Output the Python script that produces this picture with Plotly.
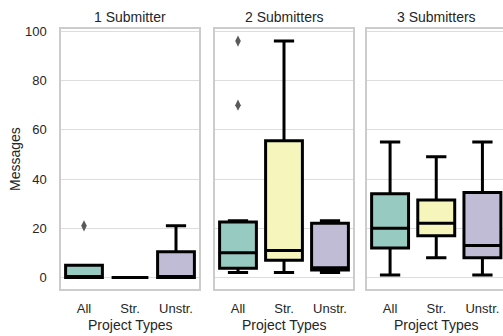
import plotly.graph_objects as go

# ---- data ----
panels = ["1 Submitter", "2 Submitters", "3 Submitters"]
categories = ["All", "Str.", "Unstr."]
colors = ["#97cac1", "#f6f6bc", "#c0bcd6"]

# per panel, per category: lower whisker, q1, median, q3, upper whisker
lower = [[0, 0, 0], [2, 2, 2], [1, 8, 1]]
q1 = [[0, 0, 0], [3.7, 7, 3], [12, 17, 8]]
median = [[0, 0, 0], [10, 11, 4], [20, 22, 13]]
q3 = [[5, 0, 10.5], [22.5, 55.5, 22], [34, 31.5, 34.5]]
upper = [[5, 0, 21], [23, 96, 23], [55, 49, 55]]

# outliers: (panel index, category, value)
out_panel = [0, 1, 1]
out_cat = ["All", "All", "All"]
out_val = [21, 96, 70]

yticks = [0, 20, 40, 60, 80, 100]

W, H = 503, 336
FONT = "Liberation Sans, Arial, sans-serif"
TXT = "#262626"

fig = go.Figure()
axnames = ["", "2", "3"]
for p in range(3):
    for c in range(3):
        fig.add_trace(go.Box(
            x=[categories[c]],
            q1=[q1[p][c]], median=[median[p][c]], q3=[q3[p][c]],
            lowerfence=[lower[p][c]], upperfence=[upper[p][c]],
            fillcolor=colors[c],
            line=dict(color="black", width=3),
            width=0.8, whiskerwidth=0.55,
            boxpoints=False, showlegend=False, hoverinfo="skip",
            xaxis="x" + axnames[p], yaxis="y" + axnames[p],
        ))
for p in range(3):
    xs = [out_cat[i] for i in range(len(out_val)) if out_panel[i] == p]
    ys = [out_val[i] for i in range(len(out_val)) if out_panel[i] == p]
    if xs:
        fig.add_trace(go.Scatter(
            x=xs, y=ys, mode="markers",
            marker=dict(symbol="diamond-tall", size=8, color="#5a5a5a"),
            showlegend=False, hoverinfo="skip",
            xaxis="x" + axnames[p], yaxis="y" + axnames[p],
        ))

px = [(61, 199), (215, 353), (367, 503)]
ydom = [1 - 289.3 / H, 1 - 29.3 / H]
xranges = [[-0.5, 2.5], [-0.5, 2.5], [-0.5, 2.5 - 3 * (505.5 - 503) / 138.5]]

layout = dict(
    width=W, height=H,
    margin=dict(l=0, r=0, t=0, b=0, autoexpand=False),
    paper_bgcolor="white", plot_bgcolor="white",
    font=dict(family=FONT, size=13, color=TXT),
    annotations=[],
)
for p in range(3):
    xa = dict(
        domain=[px[p][0] / W, px[p][1] / W],
        anchor="y" + axnames[p],
        type="category", categoryorder="array", categoryarray=categories,
        range=xranges[p], automargin=False,
        showgrid=False, zeroline=False,
        showline=True, mirror=True, linecolor="#cccccc", linewidth=1.5,
        ticks="outside", ticklen=6, tickcolor="rgba(0,0,0,0)",
        tickfont=dict(size=13, color=TXT),
    )
    ya = dict(
        domain=ydom,
        anchor="x" + axnames[p],
        range=[-4.8, 100.8], automargin=False,
        tickvals=yticks,
        showgrid=True, gridcolor="#dddddd", gridwidth=1.2,
        zeroline=False,
        showline=True, mirror=(p < 2), linecolor="#cccccc", linewidth=1.5,
        showticklabels=(p == 0),
        ticks="outside", ticklen=10, tickcolor="rgba(0,0,0,0)",
        tickfont=dict(size=13, color=TXT),
    )
    if p > 0:
        ya["matches"] = "y"
    layout["xaxis" + axnames[p]] = xa
    layout["yaxis" + axnames[p]] = ya
    cx = (px[p][0] + (px[p][0] + 138.5)) / 2 / W
    layout["annotations"].append(dict(
        text=panels[p], x=cx, y=1 - 16.7 / H, xref="paper", yref="paper",
        xanchor="center", yanchor="middle", showarrow=False,
        font=dict(size=14, color=TXT)))
    layout["annotations"].append(dict(
        text="Project Types", x=cx, y=1 - 324.5 / H, xref="paper", yref="paper",
        xanchor="center", yanchor="middle", showarrow=False,
        font=dict(size=14, color=TXT)))

layout["annotations"].append(dict(
    text="Messages", x=15 / W, y=1 - 159 / H, xref="paper", yref="paper",
    xanchor="center", yanchor="middle", showarrow=False, textangle=-90,
    font=dict(size=14, color=TXT)))

fig.update_layout(**layout)
fig.write_html("out.html",
               config={"displayModeBar": False},
               post_script="document.body.style.margin='0';document.body.style.overflow='hidden';")
